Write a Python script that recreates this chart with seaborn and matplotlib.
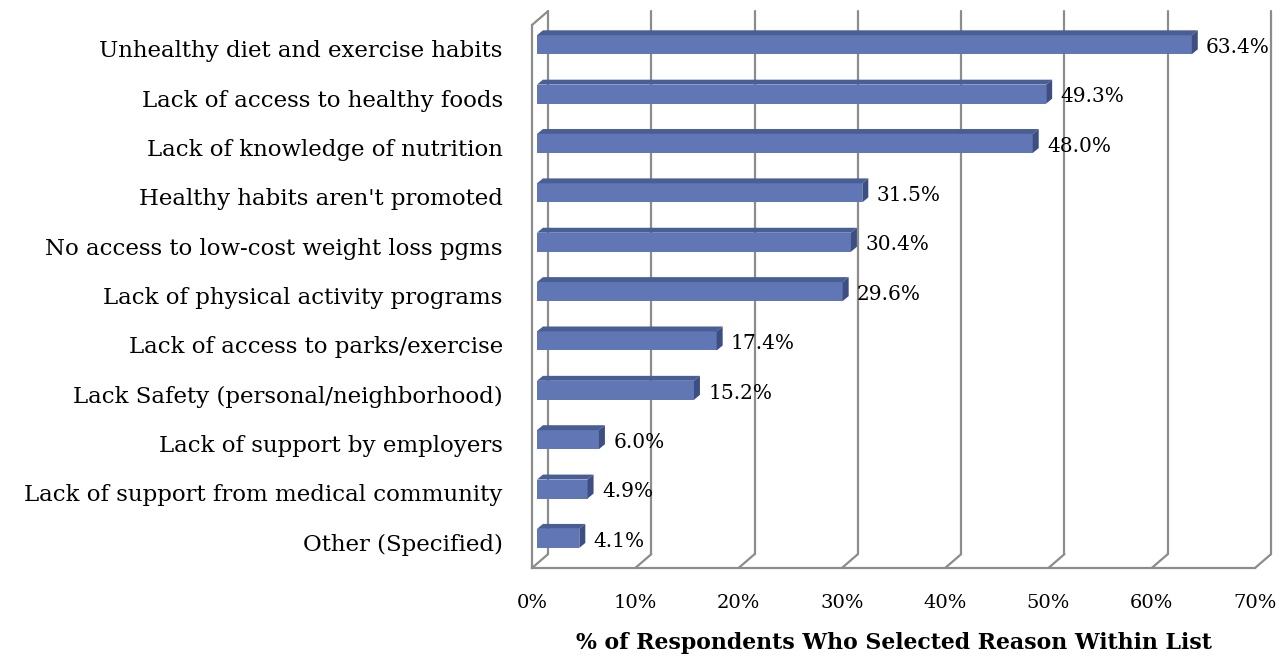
import matplotlib
matplotlib.use("Agg")
import matplotlib.pyplot as plt
import seaborn as sns
import pandas as pd
from matplotlib.patches import Polygon

# survey reasons and share of respondents (%)
reasons = ["Unhealthy diet and exercise habits",
           "Lack of access to healthy foods",
           "Lack of knowledge of nutrition",
           "Healthy habits aren't promoted",
           "No access to low-cost weight loss pgms",
           "Lack of physical activity programs",
           "Lack of access to parks/exercise",
           "Lack Safety (personal/neighborhood)",
           "Lack of support by employers",
           "Lack of support from medical community",
           "Other (Specified)"]
pct = [63.4, 49.3, 48.0, 31.5, 30.4, 29.6, 17.4, 15.2, 6.0, 4.9, 4.1]
xticks = [0, 10, 20, 30, 40, 50, 60, 70]

df = pd.DataFrame({"reason": reasons, "pct": pct})

sns.set_style("white")
plt.rcParams["font.family"] = ["DejaVu Serif"]
plt.rcParams["text.color"] = "black"
plt.rcParams["xtick.color"] = "black"
plt.rcParams["ytick.color"] = "black"
plt.rcParams["axes.labelcolor"] = "black"

FRONT = "#6177B5"
TOP = "#4A5E96"
SIDE = "#3D4F82"
GRID = "#8C8C8C"

fig = plt.figure(figsize=(12.88, 6.63), dpi=100)
ax = fig.add_axes([532/1288, 1-568/663, 723/1288, 543/663])

sns.barplot(data=df, x="pct", y="reason", orient="h", color=FRONT,
            width=0.385, saturation=1, ax=ax, zorder=3)

ax.set_xlim(0, 70)
ax.set_ylim(10.52, -0.48)

# depth offsets (data units)
WX, WY = 1.55, 0.28     # back wall
BX, BY = 0.48, 0.08     # bar front face shift
DX, DY = 0.58, 0.10     # bar depth

y_floor, y_top = ax.get_ylim()

# back wall gridlines + floor connectors
for t in xticks:
    ax.plot([t, t + WX], [y_floor, y_floor - WY], color=GRID, lw=1.6,
            clip_on=False, zorder=1)
    ax.plot([t + WX, t + WX], [y_floor - WY, y_top - WY], color=GRID, lw=1.6,
            clip_on=False, zorder=1)
# top of the left wall
ax.plot([0, WX], [y_top, y_top - WY], color=GRID, lw=1.6, clip_on=False, zorder=1)

for s in ["top", "right"]:
    ax.spines[s].set_visible(False)
for s in ["left", "bottom"]:
    ax.spines[s].set_color(GRID)
    ax.spines[s].set_linewidth(1.6)

# 3d look for the bars
for p, v in zip(ax.patches, pct):
    p.set_x(p.get_x() + BX)
    p.set_y(p.get_y() - BY)
    p.set_edgecolor("none")
    x0, y0 = p.get_x(), p.get_y()
    x1, h = x0 + p.get_width(), p.get_height()
    ax.add_patch(Polygon([(x0, y0), (x1, y0), (x1 + DX, y0 - DY), (x0 + DX, y0 - DY)],
                         closed=True, fc=TOP, ec="none", zorder=3, clip_on=False))
    ax.add_patch(Polygon([(x1, y0), (x1 + DX, y0 - DY), (x1 + DX, y0 + h - DY), (x1, y0 + h)],
                         closed=True, fc=SIDE, ec="none", zorder=3, clip_on=False))
    ax.annotate(f"{v:.1f}%", (x1 + DX, y0 + h / 2), xytext=(6, -2),
                textcoords="offset points", va="center", ha="left",
                fontsize=14.5, color="black")

ax.set_xticks(xticks)
ax.set_xticklabels([f"{t}%" for t in xticks])
ax.tick_params(axis="x", length=0, pad=19, labelsize=14)
ax.tick_params(axis="y", length=0, pad=21, labelsize=16.5)
ax.set_ylabel("")
ax.set_xlabel("% of Respondents Who Selected Reason Within List",
              fontsize=15.8, fontweight="bold", labelpad=14)

fig.savefig("out.png", dpi=100)
